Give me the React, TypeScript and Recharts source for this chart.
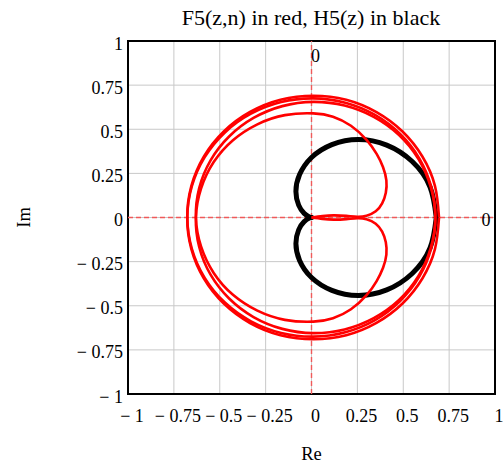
import React from 'react';
import { LineChart, Line, XAxis, YAxis, CartesianGrid, ReferenceLine, ReferenceArea } from 'recharts';

const tickValues = [-1, -0.75, -0.5, -0.25, 0, 0.25, 0.5, 0.75, 1];
const tickLabels = ['− 1', '− 0.75', '− 0.5', '− 0.25', '0', '0.25', '0.5', '0.75', '1'];

const titleText = 'F5(z,n) in red, H5(z) in black';
const xLabel = 'Re';
const yLabel = 'Im';

// H5(z): black closed curve, upper half (from origin to right end)
const blackUpper = [
  { x: 0, y: 0 }, { x: -0.011, y: 0.003 }, { x: -0.04, y: 0.023 }, { x: -0.07, y: 0.07 },
  { x: -0.085, y: 0.147 }, { x: -0.065, y: 0.243 }, { x: 0, y: 0.34 }, { x: 0.111, y: 0.413 },
  { x: 0.255, y: 0.442 }, { x: 0.41, y: 0.41 }, { x: 0.549, y: 0.317 }, { x: 0.646, y: 0.173 },
  { x: 0.68, y: 0 },
];
// H5(z): lower half
const blackLower = [
  { x: 0, y: 0 }, { x: -0.011, y: -0.003 }, { x: -0.04, y: -0.023 }, { x: -0.07, y: -0.07 },
  { x: -0.085, y: -0.147 }, { x: -0.065, y: -0.243 }, { x: 0, y: -0.34 }, { x: 0.111, y: -0.413 },
  { x: 0.255, y: -0.442 }, { x: 0.41, y: -0.41 }, { x: 0.549, y: -0.317 }, { x: 0.646, y: -0.173 },
  { x: 0.68, y: 0 },
];

// F5(z,n): red curve, branch leaving the origin upward
const redUpper = [
  { x: 0, y: 0 }, { x: 0.06, y: 0.008 }, { x: 0.12, y: 0.012 }, { x: 0.19, y: 0.009 },
  { x: 0.25, y: 0.004 }, { x: 0.3, y: 0.01 }, { x: 0.35, y: 0.035 }, { x: 0.385, y: 0.08 },
  { x: 0.405, y: 0.14 }, { x: 0.408, y: 0.21 }, { x: 0.39, y: 0.285 }, { x: 0.355, y: 0.36 },
  { x: 0.3, y: 0.44 }, { x: 0.215, y: 0.52 }, { x: 0.117, y: 0.571 }, { x: 0.01, y: 0.59 },
  { x: -0.145, y: 0.58 }, { x: -0.295, y: 0.528 }, { x: -0.428, y: 0.438 }, { x: -0.533, y: 0.314 },
  { x: -0.602, y: 0.164 }, { x: -0.63, y: 0 }, { x: -0.612, y: -0.167 }, { x: -0.55, y: -0.324 },
  { x: -0.449, y: -0.459 }, { x: -0.316, y: -0.564 }, { x: -0.159, y: -0.631 }, { x: 0.01, y: -0.655 },
  { x: 0.18, y: -0.634 }, { x: 0.339, y: -0.57 }, { x: 0.477, y: -0.467 }, { x: 0.583, y: -0.331 },
  { x: 0.65, y: -0.172 }, { x: 0.675, y: 0 }, { x: 0.653, y: 0.172 }, { x: 0.588, y: 0.334 },
  { x: 0.483, y: 0.473 }, { x: 0.346, y: 0.581 }, { x: 0.184, y: 0.65 }, { x: 0.01, y: 0.675 },
  { x: -0.165, y: 0.654 }, { x: -0.33, y: 0.588 }, { x: -0.472, y: 0.482 }, { x: -0.582, y: 0.342 },
  { x: -0.652, y: 0.177 }, { x: -0.677, y: 0 }, { x: -0.655, y: -0.178 }, { x: -0.587, y: -0.345 },
  { x: -0.478, y: -0.488 }, { x: -0.335, y: -0.598 }, { x: -0.169, y: -0.667 }, { x: 0.01, y: -0.69 },
  { x: 0.189, y: -0.667 }, { x: 0.354, y: -0.597 }, { x: 0.496, y: -0.487 }, { x: 0.605, y: -0.344 },
  { x: 0.673, y: -0.178 }, { x: 0.695, y: 0 },
];
// F5(z,n): red curve, branch leaving the origin downward
const redLower = [
  { x: 0, y: 0 }, { x: 0.06, y: -0.008 }, { x: 0.12, y: -0.012 }, { x: 0.19, y: -0.009 },
  { x: 0.25, y: -0.004 }, { x: 0.3, y: -0.01 }, { x: 0.35, y: -0.035 }, { x: 0.385, y: -0.08 },
  { x: 0.405, y: -0.14 }, { x: 0.408, y: -0.21 }, { x: 0.39, y: -0.285 }, { x: 0.355, y: -0.36 },
  { x: 0.3, y: -0.44 }, { x: 0.215, y: -0.52 }, { x: 0.117, y: -0.571 }, { x: 0.01, y: -0.59 },
  { x: -0.145, y: -0.58 }, { x: -0.295, y: -0.528 }, { x: -0.428, y: -0.438 }, { x: -0.533, y: -0.314 },
  { x: -0.602, y: -0.164 }, { x: -0.63, y: 0 }, { x: -0.612, y: 0.167 }, { x: -0.55, y: 0.324 },
  { x: -0.449, y: 0.459 }, { x: -0.316, y: 0.564 }, { x: -0.159, y: 0.631 }, { x: 0.01, y: 0.655 },
  { x: 0.18, y: 0.634 }, { x: 0.339, y: 0.57 }, { x: 0.477, y: 0.467 }, { x: 0.583, y: 0.331 },
  { x: 0.65, y: 0.172 }, { x: 0.675, y: 0 }, { x: 0.653, y: -0.172 }, { x: 0.588, y: -0.334 },
  { x: 0.483, y: -0.473 }, { x: 0.346, y: -0.581 }, { x: 0.184, y: -0.65 }, { x: 0.01, y: -0.675 },
  { x: -0.165, y: -0.654 }, { x: -0.33, y: -0.588 }, { x: -0.472, y: -0.482 }, { x: -0.582, y: -0.342 },
  { x: -0.652, y: -0.177 }, { x: -0.677, y: 0 }, { x: -0.655, y: 0.178 }, { x: -0.587, y: 0.345 },
  { x: -0.478, y: 0.488 }, { x: -0.335, y: 0.598 }, { x: -0.169, y: 0.667 }, { x: 0.01, y: 0.69 },
  { x: 0.189, y: 0.667 }, { x: 0.354, y: 0.597 }, { x: 0.496, y: 0.487 }, { x: 0.605, y: 0.344 },
  { x: 0.673, y: 0.178 }, { x: 0.695, y: 0 },
];

const FONT = '"Liberation Serif", "Times New Roman", serif';
const W = 496;
const H = 459;

const labelFor = (v: number) => {
  const i = tickValues.findIndex((t) => Math.abs(t - v) < 1e-9);
  return i >= 0 ? tickLabels[i] : String(v);
};

const textStyle = { fontFamily: FONT };

const XTick = (props: any) => {
  const { x, y, payload } = props;
  return (
    <text x={x + 4} y={y + 27.5} textAnchor="middle" fontFamily={FONT} style={textStyle} fontSize={18} fill="#000">
      {labelFor(payload.value)}
    </text>
  );
};

const YTick = (props: any) => {
  const { x, y, payload } = props;
  return (
    <text x={x - 5} y={y + 8.5} textAnchor="end" fontFamily={FONT} style={textStyle} fontSize={18} fill="#000">
      {labelFor(payload.value)}
    </text>
  );
};

export default function App() {
  return (
    <div style={{ position: 'absolute', left: 8, top: 8, width: W, height: H, overflow: 'visible' }}>
      <div
        style={{
          position: 'absolute',
          left: 103,
          width: 400,
          top: -1,
          textAlign: 'center',
          fontFamily: FONT,
          fontSize: 22,
          lineHeight: '22px',
          color: '#000',
          whiteSpace: 'nowrap',
        }}
      >
        {titleText}
      </div>
      <LineChart width={W} height={H} margin={{ top: 33, right: 9, bottom: 23, left: 10 }} style={{ overflow: 'visible' }}>
        <CartesianGrid stroke="#c8c8c8" strokeWidth={1} />
        <XAxis
          type="number"
          dataKey="x"
          domain={[-1, 1]}
          ticks={tickValues}
          allowDataOverflow
          height={50}
          tickSize={0}
          tickMargin={0}
          tickLine={false}
          axisLine={false}
          tick={<XTick />}
          interval={0}
          minTickGap={0}
          label={{
            content: (p: any) => {
              const vb = p.viewBox || { x: 120, y: 386, width: 367 };
              return (
                <text x={vb.x + vb.width / 2} y={vb.y + 66} textAnchor="middle" fontFamily={FONT} style={textStyle} fontSize={18.5} fill="#000">
                  {xLabel}
                </text>
              );
            },
          }}
        />
        <YAxis
          type="number"
          dataKey="y"
          domain={[-1, 1]}
          ticks={tickValues}
          allowDataOverflow
          width={110}
          tickSize={0}
          tickMargin={0}
          tickLine={false}
          axisLine={false}
          tick={<YTick />}
          interval={0}
          label={{
            content: (p: any) => {
              const vb = p.viewBox || { x: 10, y: 33, height: 353 };
              const cx = 22;
              const cy = vb.y + vb.height / 2;
              return (
                <text x={cx} y={cy} transform={`rotate(-90, ${cx}, ${cy})`} textAnchor="middle" fontFamily={FONT} style={textStyle} fontSize={18.5} fill="#000">
                  {yLabel}
                </text>
              );
            },
          }}
        />
        <ReferenceLine
          x={0}
          stroke="#f05a5a"
          strokeWidth={1.4}
          strokeDasharray="5 3"
          label={{
            content: (p: any) => {
              const vb = p.viewBox;
              return (
                <text x={vb.x + 4} y={vb.y + 20.5} textAnchor="middle" fontFamily={FONT} style={textStyle} fontSize={18} fill="#000">
                  0
                </text>
              );
            },
          }}
        />
        <ReferenceLine
          y={0}
          stroke="#f05a5a"
          strokeWidth={1.4}
          strokeDasharray="5 3"
          label={{
            content: (p: any) => {
              const vb = p.viewBox;
              return (
                <text x={vb.x + vb.width - 9} y={vb.y + 8} textAnchor="middle" fontFamily={FONT} style={textStyle} fontSize={18} fill="#000">
                  0
                </text>
              );
            },
          }}
        />
        <Line data={blackUpper} dataKey="y" type="natural" stroke="#000" strokeWidth={5} dot={false} activeDot={false} isAnimationActive={false} strokeLinejoin="round" strokeLinecap="round" />
        <Line data={blackLower} dataKey="y" type="natural" stroke="#000" strokeWidth={5} dot={false} activeDot={false} isAnimationActive={false} strokeLinejoin="round" strokeLinecap="round" />
        <Line data={redUpper} dataKey="y" type="natural" stroke="#ff0000" strokeWidth={2.6} dot={false} activeDot={false} isAnimationActive={false} strokeLinejoin="round" />
        <Line data={redLower} dataKey="y" type="natural" stroke="#ff0000" strokeWidth={2.6} dot={false} activeDot={false} isAnimationActive={false} strokeLinejoin="round" />
        <ReferenceArea x1={-1} x2={1} y1={-1} y2={1} fill="none" fillOpacity={0} stroke="#000" strokeWidth={2} />
      </LineChart>
    </div>
  );
}
